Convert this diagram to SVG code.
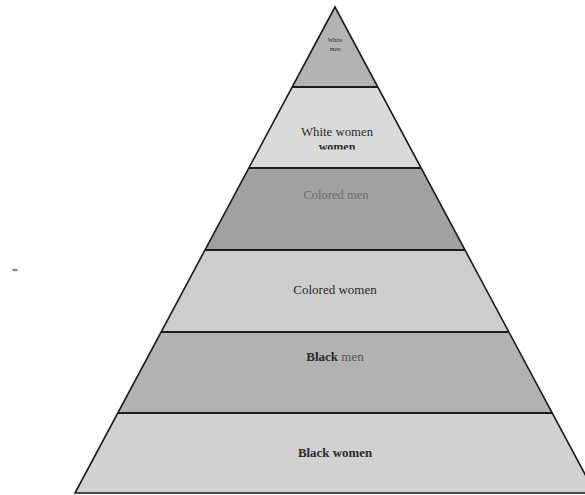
<svg xmlns="http://www.w3.org/2000/svg" width="585" height="495" viewBox="0 0 585 495">
<style>
.band{stroke:none}
.t{font-family:"Liberation Serif","Times New Roman",serif;text-anchor:middle;fill:#2a2a2a}
.sep{stroke:#1e1e1e;stroke-width:2;fill:none}
.edge{stroke:#1a1a1a;stroke-width:1.6;fill:none;stroke-linejoin:miter}
</style>
<defs>
<clipPath id="c2"><rect x="0" y="0" width="585" height="149.5"/></clipPath>
</defs>
<rect width="585" height="495" fill="#ffffff"/>
<g id="white-men">
<polygon class="band" points="335,7 292.2,87 377.8,87" fill="#b3b3b3"/>
<text class="t" x="335" y="42" font-size="6">White</text>
<text class="t" x="335" y="51" font-size="6">men</text>
</g>
<g id="white-women">
<polygon class="band" points="292.2,87 377.8,87 421.1,168 248.9,168" fill="#dadada"/>
<text class="t" x="337" y="136" font-size="12.8">White women</text>
<text class="t" x="337" y="151" font-size="12" font-weight="bold" clip-path="url(#c2)">women</text>
</g>
<g id="colored-men">
<polygon class="band" points="248.9,168 421.1,168 465,250 205,250" fill="#a1a1a1"/>
<text class="t" x="336" y="199" font-size="12.5" style="fill:#6a6a6a">Colored men</text>
</g>
<g id="colored-women">
<polygon class="band" points="205,250 465,250 508.9,332 161.1,332" fill="#cdcdcd"/>
<text class="t" x="335" y="294" font-size="13">Colored women</text>
</g>
<g id="black-men">
<polygon class="band" points="161.1,332 508.9,332 552.2,413 117.8,413" fill="#b2b2b2"/>
<text class="t" x="335" y="361" font-size="13"><tspan font-weight="bold">Black</tspan> <tspan style="fill:#555">men</tspan></text>
</g>
<g id="black-women">
<polygon class="band" points="117.8,413 552.2,413 595,493 75,493" fill="#d1d1d1"/>
<text class="t" x="335" y="457" font-size="12.9" font-weight="bold">Black women</text>
</g>
<g id="connectors">
<line class="sep" x1="292.2" y1="87" x2="377.8" y2="87"/>
<line class="sep" x1="248.9" y1="168" x2="421.1" y2="168"/>
<line class="sep" x1="205" y1="250" x2="465" y2="250"/>
<line class="sep" x1="161.1" y1="332" x2="508.9" y2="332"/>
<line class="sep" x1="117.8" y1="413" x2="552.2" y2="413"/>
<polygon class="edge" points="335,7 75,493 595,493"/>
</g>
<ellipse cx="15" cy="270" rx="3" ry="1.2" fill="#8a8a8a"/>
</svg>
